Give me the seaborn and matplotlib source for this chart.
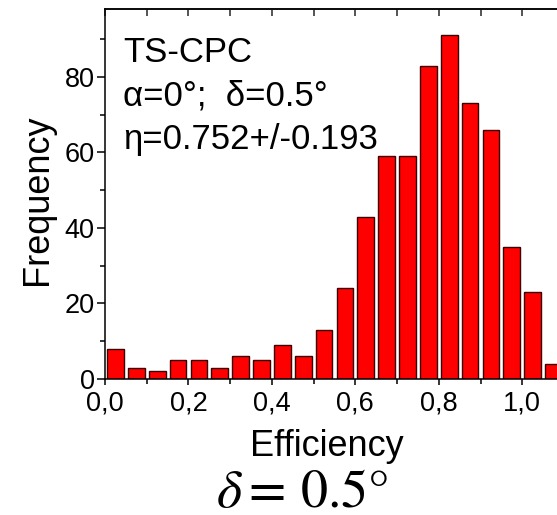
import numpy as np
import pandas as pd
import matplotlib
matplotlib.use("Agg")
import matplotlib.pyplot as plt
import seaborn as sns

# ---- data ----
bin_centers = [0.025, 0.075, 0.125, 0.175, 0.225, 0.275, 0.325, 0.375, 0.425, 0.475,
               0.525, 0.575, 0.625, 0.675, 0.725, 0.775, 0.825, 0.875, 0.925, 0.975,
               1.025, 1.075]
counts = [8, 3, 2, 5, 5, 3, 6, 5, 9, 6, 13, 24, 43, 59, 59, 83, 91, 73, 66, 35, 23, 4]
bin_edges = [0.0, 0.05, 0.10, 0.15, 0.20, 0.25, 0.30, 0.35, 0.40, 0.45, 0.50, 0.55,
             0.60, 0.65, 0.70, 0.75, 0.80, 0.85, 0.90, 0.95, 1.00, 1.05, 1.10]
x_ticks = [0.0, 0.2, 0.4, 0.6, 0.8, 1.0]
x_ticklabels = ["0,0", "0,2", "0,4", "0,6", "0,8", "1,0"]
y_ticks = [0, 20, 40, 60, 80]
y_ticklabels = ["0", "20", "40", "60", "80"]
annot_lines = ["TS-CPC", "α=0°;  δ=0.5°", "η=0.752+/-0.193"]
xlabel = "Efficiency"
ylabel = "Frequency"
caption = r"$\delta=\,0.5\degree$"

sns.set_theme(style="ticks")
plt.rcParams["font.family"] = ["Liberation Sans", "DejaVu Sans"]
plt.rcParams["mathtext.fontset"] = "stix"
plt.rcParams["text.color"] = "black"

W, H = 557, 515
fig = plt.figure(figsize=(W / 100, H / 100), dpi=100)
ax = fig.add_axes([105 / W, 1 - 379 / H, 459 / W, 370 / H])

df = pd.DataFrame({"eff": bin_centers, "n": counts})
sns.histplot(data=df, x="eff", weights="n", bins=bin_edges, shrink=0.8,
             color="#ff0000", alpha=1.0, edgecolor="#3a0000", linewidth=1.0, ax=ax)

ax.set_xlim(0, 1.1)
ax.set_ylim(0, 98)
ax.set_xticks(x_ticks)
ax.set_xticklabels(x_ticklabels)
ax.set_xticks(np.arange(0.1, 1.1, 0.2), minor=True)
ax.set_yticks(y_ticks)
ax.set_yticklabels(y_ticklabels)
ax.set_yticks([10, 30, 50, 70, 90], minor=True)
ax.tick_params(axis="x", which="major", direction="out", length=4.5, width=1.1,
               labelsize=19.5, color="black", labelcolor="black", pad=4)
ax.tick_params(axis="y", which="major", direction="out", length=5.5, width=1.1,
               labelsize=19.5, color="black", labelcolor="black", pad=2)
ax.tick_params(axis="both", which="minor", direction="out", length=3.5, width=1.1,
               color="black")
ax.set_xlabel("")
ax.set_ylabel("")
for s in ax.spines.values():
    s.set_linewidth(1.1)
    s.set_color("black")
    s.set_visible(True)

# top / right inward ticks
top = ax.secondary_xaxis("top")
top.set_xticks(x_ticks)
top.set_xticks(np.arange(0.1, 1.1, 0.2), minor=True)
top.tick_params(which="both", direction="in", length=5, width=1.1, labeltop=False)
right = ax.secondary_yaxis("right")
right.set_yticks(y_ticks)
right.set_yticks([10, 30, 50, 70, 90], minor=True)
right.tick_params(which="major", direction="in", length=5, width=1.1, labelright=False)
right.tick_params(which="minor", direction="in", length=3, width=1.1, labelright=False)

# annotation lines
for txt, yb in zip(annot_lines, [62, 106, 149]):
    fig.text(123 / W, 1 - yb / H, txt, fontsize=25, va="baseline", ha="left",
             color="black")

fig.text(327 / W, 1 - 456 / H, xlabel, fontsize=26, ha="center", va="baseline",
         color="black")
fig.text(37 / W, 1 - 200 / H, ylabel, fontsize=26, ha="center", va="center",
         rotation=90, color="black")
fig.text(302 / W, 1 - 507 / H, caption, fontsize=39, ha="center", va="baseline",
         color="black")

fig.savefig("out.png", dpi=100)
